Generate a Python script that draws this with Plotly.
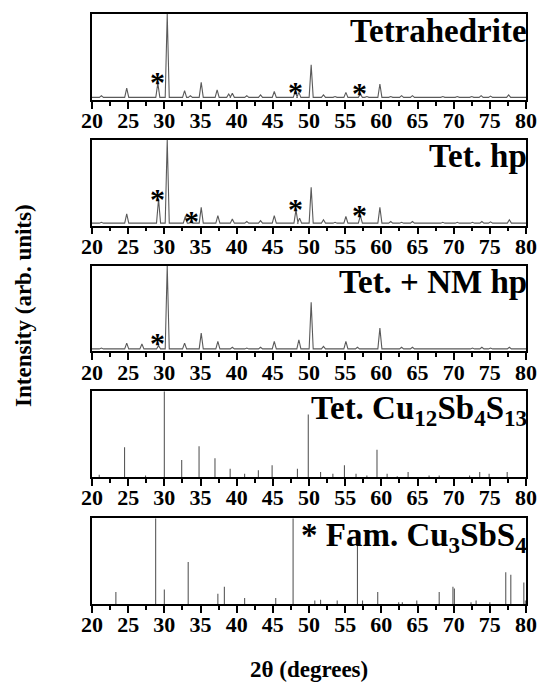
import plotly.graph_objects as go

# ---------------- data ----------------
# measured patterns: peak positions (2theta) and relative heights
tet_pos = [21.3, 24.8, 29.1, 30.4, 32.8, 33.6, 35.1, 37.3, 38.9, 39.4, 41.4, 43.3, 45.2,
           48.1, 48.6, 50.3, 52.0, 53.6, 55.1, 57.1, 58.0, 59.8, 61.3, 62.8, 64.3, 68.5,
           70.5, 72.5, 73.8, 75.1, 77.6]
tet_h = [0.02, 0.11, 0.17, 1.0, 0.08, 0.02, 0.18, 0.09, 0.04, 0.05, 0.02, 0.03, 0.07,
         0.07, 0.06, 0.39, 0.03, 0.01, 0.06, 0.04, 0.01, 0.16, 0.01, 0.02, 0.02, 0.01,
         0.01, 0.01, 0.02, 0.015, 0.03]

hp_pos = [21.3, 24.8, 29.2, 30.4, 32.9, 33.7, 35.1, 37.4, 39.4, 41.4, 43.3, 45.2, 48.2,
          48.7, 50.3, 52.0, 53.6, 55.1, 57.1, 59.8, 61.3, 62.8, 64.3, 68.5, 70.5, 72.6,
          73.9, 75.1, 77.7]
hp_h = [0.01, 0.11, 0.29, 1.0, 0.08, 0.02, 0.19, 0.09, 0.05, 0.02, 0.03, 0.09, 0.16,
        0.06, 0.43, 0.04, 0.01, 0.08, 0.09, 0.19, 0.02, 0.01, 0.02, 0.01, 0.01, 0.01,
        0.02, 0.015, 0.04]

nm_pos = [21.3, 24.8, 26.9, 29.2, 30.4, 32.8, 35.1, 37.4, 39.4, 41.4, 43.3, 45.2, 48.6,
          50.3, 52.0, 55.1, 56.7, 59.8, 62.8, 64.3, 72.6, 73.9, 75.1, 77.7]
nm_h = [0.01, 0.07, 0.06, 0.04, 1.0, 0.07, 0.19, 0.09, 0.02, 0.01, 0.02, 0.09, 0.11,
        0.56, 0.03, 0.09, 0.02, 0.25, 0.02, 0.02, 0.01, 0.02, 0.01, 0.02]

# reference stick patterns
ref_tet_pos = [21.0, 24.5, 27.4, 30.0, 32.4, 34.8, 37.0, 39.1, 41.1, 43.0, 44.9, 48.4,
               49.9, 51.6, 53.3, 54.9, 56.5, 58.0, 59.4, 60.8, 62.2, 63.7, 66.6, 68.0,
               72.2, 73.6, 74.9, 77.4]
ref_tet_h = [0.03, 0.35, 0.02, 1.0, 0.20, 0.36, 0.22, 0.10, 0.04, 0.08, 0.14, 0.10,
             0.73, 0.06, 0.04, 0.14, 0.04, 0.02, 0.32, 0.04, 0.01, 0.06, 0.02, 0.02,
             0.02, 0.06, 0.04, 0.06]

ref_fam_pos = [23.3, 28.8, 30.0, 33.3, 37.4, 38.3, 41.1, 45.4, 47.8, 50.8, 51.6, 53.9,
               56.7, 57.4, 59.5, 62.4, 62.9, 64.9, 68.0, 69.9, 70.1, 72.4, 73.1, 75.0,
               77.2, 77.9, 79.7, 79.9]
ref_fam_h = [0.14, 1.0, 0.17, 0.49, 0.12, 0.20, 0.07, 0.07, 1.0, 0.04, 0.05, 0.04,
             0.75, 0.04, 0.14, 0.02, 0.02, 0.04, 0.14, 0.20, 0.18, 0.02, 0.04, 0.02,
             0.37, 0.34, 0.25, 0.04]

# asterisk markers (phase Cu3SbS4) per measured panel
star1_x = [29.1, 48.2, 57.0]
star1_y = [0.28, 0.16, 0.14]
star2_x = [29.1, 33.8, 48.1, 57.0]
star2_y = [0.38, 0.12, 0.26, 0.19]
star3_x = [29.0]
star3_y = [0.16]

labels = ["Tetrahedrite", "Tet. hp", "Tet. + NM hp",
          "Tet. Cu<sub>12</sub>Sb<sub>4</sub>S<sub>13</sub>",
          "* Fam. Cu<sub>3</sub>SbS<sub>4</sub>"]

# ---------------- helpers ----------------
HALF = 0.28  # peak half-base width in degrees


def profile(pos, h):
    pairs = sorted(zip(pos, h))
    xs, ys = [20.0], [0.0]
    for p, v in pairs:
        xs += [p - HALF, p, p + HALF]
        ys += [0.0, v, 0.0]
    xs.append(80.0)
    ys.append(0.0)
    return xs, ys


def sticks(pos, h):
    xs, ys = [], []
    for p, v in zip(pos, h):
        xs += [p, p, None]
        ys += [0.0, v, None]
    return xs, ys


# ---------------- layout geometry ----------------
W, H = 549, 685
ML, MR, MT, MB = 92, 14, 13, 81
plot_h = H - MT - MB
panel_tops = [13, 139, 265, 391, 518]
panel_h = 86

fig = go.Figure()
FONT = "Liberation Serif"
LINE = "#5a5a5a"

datasets = [
    ("line", tet_pos, tet_h, star1_x, star1_y),
    ("line", hp_pos, hp_h, star2_x, star2_y),
    ("line", nm_pos, nm_h, star3_x, star3_y),
    ("stick", ref_tet_pos, ref_tet_h, [], []),
    ("stick", ref_fam_pos, ref_fam_h, [], []),
]

layout_axes = {}
for i, (kind, pos, h, sx, sy) in enumerate(datasets):
    n = i + 1
    xa = "x" if n == 1 else f"x{n}"
    ya = "y" if n == 1 else f"y{n}"
    if kind == "line":
        xs, ys = profile(pos, h)
    else:
        xs, ys = sticks(pos, h)
    fig.add_trace(go.Scatter(x=xs, y=ys, mode="lines", xaxis=xa, yaxis=ya,
                             line=dict(color=LINE, width=1.1), showlegend=False,
                             hoverinfo="skip"))
    for px, py in zip(sx, sy):
        fig.add_annotation(text="*", x=px, y=py, xref=xa, yref=ya,
                           xanchor="center", yanchor="middle", yshift=-7,
                           showarrow=False,
                           font=dict(family=FONT, size=30, color="black", weight="bold"))
    top = panel_tops[i]
    bot = top + panel_h
    d0 = 1 - (bot - MT) / plot_h
    d1 = 1 - (top - MT) / plot_h
    yr = [-0.03, 1.0] if kind == "line" else [0.0, 1.0]
    xkey = "xaxis" if n == 1 else f"xaxis{n}"
    ykey = "yaxis" if n == 1 else f"yaxis{n}"
    layout_axes[xkey] = dict(
        domain=[0, 1], anchor=ya, range=[20, 80], dtick=5,
        ticks="outside", ticklen=7, tickwidth=1.5, tickcolor="black",
        ticklabelstandoff=-7,
        minor=dict(dtick=2.5, ticks="outside", ticklen=4, tickwidth=1.5,
                   tickcolor="black"),
        showline=True, linecolor="black", linewidth=1.5, mirror=True,
        showgrid=False, zeroline=False,
        tickfont=dict(family=FONT, size=22, color="black", weight="bold"),
    )
    layout_axes[ykey] = dict(
        domain=[d0, d1], anchor=xa, range=yr, showticklabels=False, ticks="",
        showline=True, linecolor="black", linewidth=1.5, mirror=True,
        showgrid=False, zeroline=False,
    )
    fig.add_annotation(text=labels[i], xref=f"{xa} domain", yref=f"{ya} domain",
                       x=1.008, y=1.04, xanchor="right", yanchor="top",
                       showarrow=False,
                       font=dict(family=FONT, size=33, color="black", weight="bold"))

fig.add_annotation(text="Intensity (arb. units)", xref="paper", yref="paper",
                   x=-(ML - 22) / (W - ML - MR), y=1 - (305 - MT) / plot_h,
                   xanchor="center", yanchor="middle", textangle=-90, showarrow=False,
                   font=dict(family=FONT, size=23, color="black", weight="bold"))
fig.add_annotation(text="2&#952; (degrees)", xref="paper", yref="paper",
                   x=(313 - ML) / (W - ML - MR), y=-(670 - (H - MB)) / plot_h,
                   xanchor="center", yanchor="middle", showarrow=False,
                   font=dict(family=FONT, size=23, color="black", weight="bold"))

fig.update_layout(width=W, height=H, margin=dict(l=ML, r=MR, t=MT, b=MB),
                  plot_bgcolor="white", **layout_axes)

fig.write_html("out.html")
